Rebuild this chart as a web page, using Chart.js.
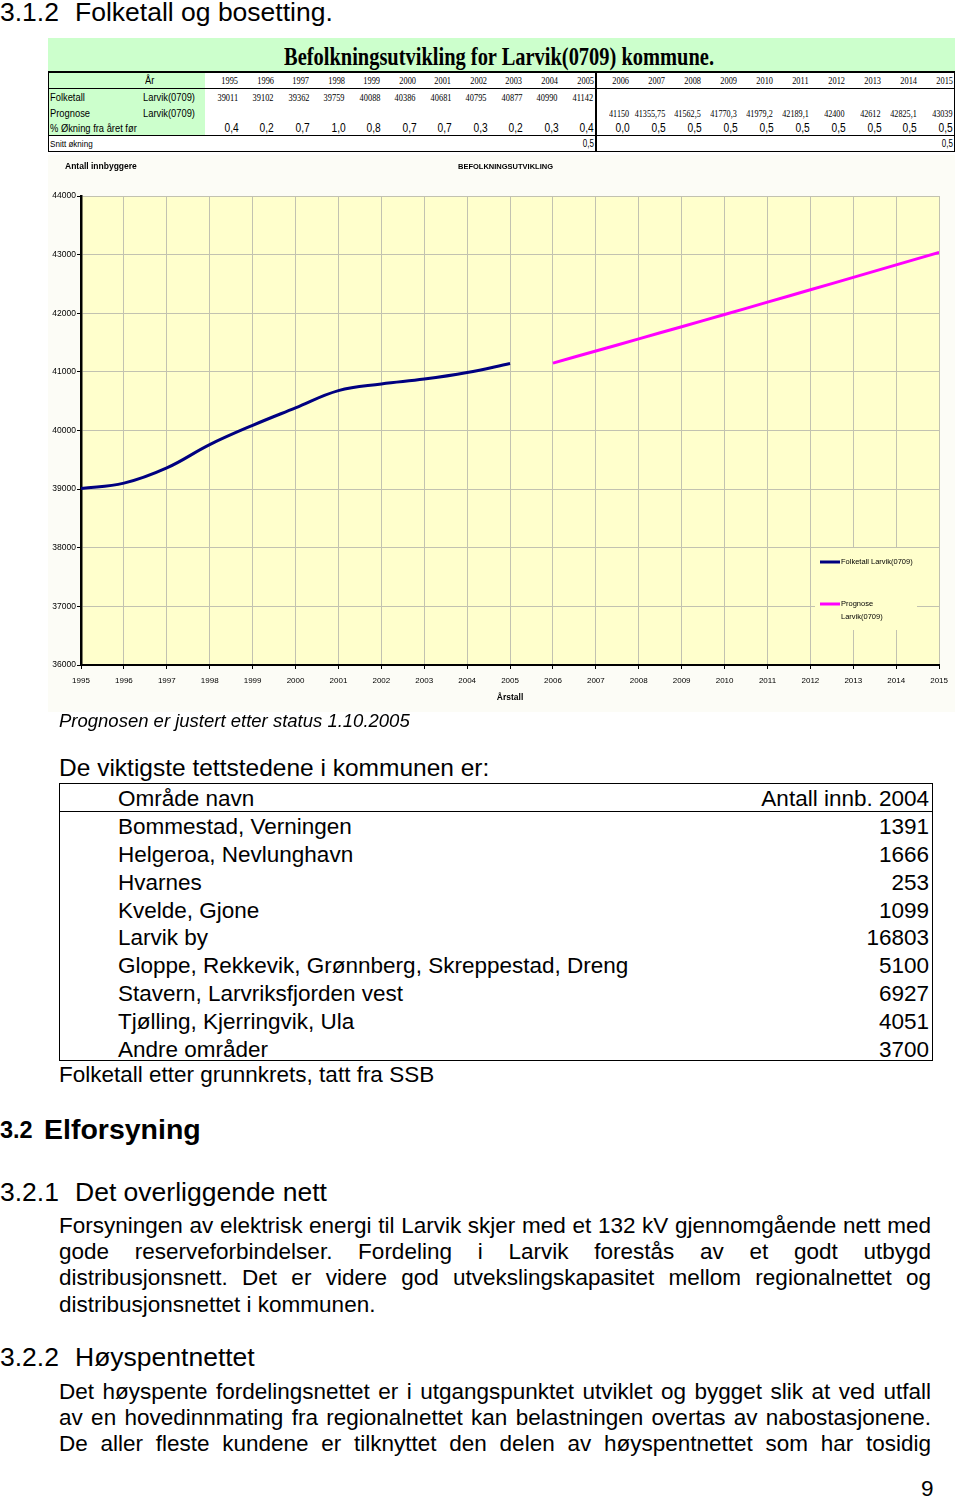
<!DOCTYPE html>
<html lang="no"><head><meta charset="utf-8">
<title>Folketall og bosetting</title>
<script src="https://cdn.jsdelivr.net/npm/chart.js@4.4.1/dist/chart.umd.min.js"></script>
<style>
html,body{margin:0;padding:0;background:#fff}
body{position:relative;width:960px;height:1500px;overflow:hidden;font-family:"Liberation Sans",Arial,sans-serif;color:#000}
.t{position:absolute;white-space:nowrap;line-height:1.15}
.c{position:absolute;white-space:nowrap;line-height:1}
.hl{position:absolute;background:#000}
#chartBox{position:absolute;left:48px;top:155px;width:907px;height:557px;background:#fcfcf6}
#chartBox canvas{display:block}
</style></head><body>
<div style="position:absolute;left:48px;top:38px;width:907px;height:34px;background:#ccffcc"></div>
<div style="position:absolute;left:48px;top:72px;width:157px;height:64px;background:#ccffcc"></div>
<div id="chartBox"><canvas id="c" width="907" height="557"></canvas></div>
<script>
// ---- data ----
const histYears = [1995,1996,1997,1998,1999,2000,2001,2002,2003,2004,2005];
const folketall = [39011,39102,39362,39759,40088,40386,40681,40795,40877,40990,41142];
const progYears = [2006,2007,2008,2009,2010,2011,2012,2013,2014,2015];
const prognose = [41150,41355.75,41562.5,41770.3,41979.2,42189.1,42400,42612,42825.1,43039];
const okning = [0.4,0.2,0.7,1.0,0.8,0.7,0.7,0.3,0.2,0.3,0.4,0.0,0.5,0.5,0.5,0.5,0.5,0.5,0.5,0.5,0.5];
const snittYears = [2005,2015];
const snittOkning = [0.5,0.5];
const yMin = 36000, yMax = 44000, yStep = 1000;
const places = ["Bommestad, Verningen","Helgeroa, Nevlunghavn","Hvarnes","Kvelde, Gjone","Larvik by","Gloppe, Rekkevik, Grønnberg, Skreppestad, Dreng","Stavern, Larvriksfjorden vest","Tjølling, Kjerringvik, Ula","Andre områder"];
const placeCounts = [1391,1666,253,1099,16803,5100,6927,4051,3700];
const seriesNames = ["Folketall Larvik(0709)","Prognose Larvik(0709)"];

// ---- helpers ----
const SANS='"Liberation Sans",Arial,sans-serif', SERIF='"Liberation Serif","Times New Roman",serif';
function el(cls,str,css){const d=document.createElement('div');d.className=cls;d.textContent=str;Object.assign(d.style,css);document.body.appendChild(d);return d;}
function line(x,y,w,h){const d=document.createElement('div');d.className='hl';Object.assign(d.style,{left:x+'px',top:y+'px',width:w+'px',height:h+'px'});document.body.appendChild(d);}
function tb(str,x,base,size,o={}){
  const d=el('t',str,{fontSize:size+'px',top:(base-0.9215*size)+'px'});
  if(o.right!==undefined){d.style.right=(960-o.right)+'px';} else d.style.left=x+'px';
  if(o.bold)d.style.fontWeight='bold'; if(o.italic)d.style.fontStyle='italic';
  return d;
}
function justify(str,x,base,size,w){
  const d=tb(str,x,base,size);
  const nat=d.getBoundingClientRect().width;
  const n=(str.match(/ /g)||[]).length;
  if(n)d.style.wordSpacing=((w-nat)/n)+'px';
  return d;
}
function cc(str,x,cy,size,o={}){
  const d=el('c',str,{fontSize:size+'px',top:(cy-size/2)+'px',fontFamily:o.family||SANS});
  if(o.bold)d.style.fontWeight='bold';
  const sx=o.sx||1;
  if(o.align==='right'){d.style.right=(960-x)+'px';d.style.transformOrigin='right center';}
  else{d.style.left=x+'px';d.style.transformOrigin='left center';}
  if(sx!==1)d.style.transform='scaleX('+sx+')';
  return d;
}
function fitCenter(str,cx,cy,size,target,o={}){
  const d=cc(str,0,cy,size,o);
  const nat=d.getBoundingClientRect().width;
  d.style.left=(cx-target/2)+'px';
  d.style.transform='scaleX('+(target/nat)+')';
  return d;
}
const fmt=v=>String(v).replace('.',',');
const fmt1=v=>v.toFixed(1).replace('.',',');

// ---- page heading ----
tb('3.1.2',0,21,26.5); tb('Folketall og bosetting.',75,21,26.5);

// ---- statistics table (image header) ----
fitCenter('Befolkningsutvikling for Larvik(0709) kommune.',499,56,25,430,{family:SERIF,bold:true});
line(48,71,907,2); line(48,88,907,1); line(48,135,907,1); line(48,151,907,1);
line(595,71,2,81); line(48,71,1,81); line(954,71,1,81);
const allYears=histYears.concat(progYears);
function colRight(i){return i<histYears.length?205+(i+1)*(391/histYears.length):596+(i-histYears.length+1)*(359/progYears.length);}
cc('År',145,80,11,{sx:0.85});
cc('Folketall',50,97,11,{sx:0.85}); cc('Larvik(0709)',143,97,11,{sx:0.85});
cc('Prognose',50,113,11,{sx:0.85}); cc('Larvik(0709)',143,113,11,{sx:0.85});
cc('% Økning fra året før',50,128,11,{sx:0.85});
cc('Snitt økning',50,144,9.5,{sx:0.85});
allYears.forEach((y,i)=>{cc(String(y),colRight(i)-2.5,80,11,{family:SERIF,sx:0.76,align:'right'});});
folketall.forEach((v,i)=>{cc(fmt(v),colRight(i)-2.5,97,11,{family:SERIF,sx:0.76,align:'right'});});
prognose.forEach((v,i)=>{cc(fmt(v),colRight(histYears.length+i)-2.5,113,11,{family:SERIF,sx:0.74,align:'right'});});
okning.forEach((v,i)=>{cc(fmt1(v),colRight(i)-2,128,12,{sx:0.85,align:'right'});});
snittYears.forEach((y,k)=>{cc(fmt1(snittOkning[k]),colRight(allYears.indexOf(y))-2,144,10,{sx:0.8,align:'right'});});

// ---- chart ----
Chart.defaults.font.family='"Liberation Sans",Arial,sans-serif';
Chart.defaults.color='#000';
const PLOT_BG='#ffffcc';
const bgPlugin={id:'bgPlot',beforeDraw(ch){const {ctx,chartArea:a}=ch;ctx.save();ctx.fillStyle=PLOT_BG;ctx.fillRect(a.left,a.top,a.right-a.left,a.bottom-a.top);ctx.restore();}};
const decoPlugin={id:'deco',
  afterDatasetsDraw(ch){
    const ctx=ch.ctx; ctx.save();
    ctx.fillStyle=PLOT_BG; ctx.fillRect(767,393,102,82);
    const ds=ch.data.datasets;
    const rows=[[407,[ds[0].label]],[449,['Prognose','Larvik(0709)']]];
    ctx.font='7.5px "Liberation Sans",Arial,sans-serif'; ctx.textBaseline='middle'; ctx.textAlign='left';
    rows.forEach((r,i)=>{
      ctx.strokeStyle=ds[i].borderColor; ctx.lineWidth=3; ctx.beginPath(); ctx.moveTo(772,r[0]); ctx.lineTo(792,r[0]); ctx.stroke();
      ctx.fillStyle='#000'; r[1].forEach((t,k)=>ctx.fillText(t,793,r[0]+k*13));
    });
    ctx.restore();
  },
  afterDraw(ch){
    const ctx=ch.ctx; ctx.save(); ctx.fillStyle='#000'; ctx.textBaseline='middle'; ctx.textAlign='left';
    ctx.font='bold 8.5px "Liberation Sans",Arial,sans-serif'; ctx.fillText('Antall innbyggere',17,12);
    ctx.font='bold 7.5px "Liberation Sans",Arial,sans-serif'; ctx.fillText('BEFOLKNINGSUTVIKLING',410,12);
    ctx.restore();
  }};
new Chart(document.getElementById('c'),{
  type:'line',
  data:{datasets:[
    {label:seriesNames[0],data:histYears.map((y,i)=>({x:y,y:folketall[i]})),borderColor:'#000080',backgroundColor:'#000080',borderWidth:3,pointRadius:0,tension:0.4,fill:false},
    {label:seriesNames[1],data:progYears.map((y,i)=>({x:y,y:prognose[i]})),borderColor:'#ff00ff',backgroundColor:'#ff00ff',borderWidth:3,pointRadius:0,tension:0.4,fill:false}
  ]},
  options:{
    responsive:false,animation:false,devicePixelRatio:1,
    layout:{padding:{left:0,right:14,top:41,bottom:0}},
    plugins:{legend:{display:false},tooltip:{enabled:false},title:{display:false}},
    scales:{
      x:{type:'linear',min:histYears[0],max:progYears[progYears.length-1],
        ticks:{stepSize:1,autoSkip:false,maxRotation:0,padding:7,color:'#000',font:{size:8},callback:v=>String(v)},
        grid:{color:'#c2c2b0',tickColor:'#000',tickLength:4,lineWidth:1},
        border:{color:'#000',width:2},
        title:{display:true,text:'Årstall',color:'#000',font:{size:8.5,weight:'bold'},padding:{top:0,bottom:9}},
        afterFit(s){s.height=47;}},
      y:{min:yMin,max:yMax,
        ticks:{stepSize:yStep,padding:1,color:'#000',font:{size:8.5},callback:v=>String(v)},
        grid:{color:'#c2c2b0',tickColor:'#000',tickLength:4,lineWidth:1},
        border:{color:'#000',width:2.5},
        afterFit(s){s.width=33;}}
    }
  },
  plugins:[bgPlugin,decoPlugin]
});

// ---- body text ----
tb('Prognosen er justert etter status 1.10.2005',59,727,18.5,{italic:true});
tb('De viktigste tettstedene i kommunen er:',59,776.5,24.5);
el('t','',{left:'59px',top:'782.5px',width:'874px',height:'278.5px',border:'1px solid #000',boxSizing:'border-box'});
line(59,810.5,874,1);
tb('Område navn',118,807,22.5); tb('Antall innb. 2004',0,807,22.5,{right:929});
places.forEach((p,i)=>{const b=835+27.8*i; tb(p,118,b,22.5); tb(String(placeCounts[i]),0,b,22.5,{right:929});});
tb('Folketall etter grunnkrets, tatt fra SSB',59,1082.5,22.5);
tb('3.2',0,1139,23.5,{bold:true}); tb('Elforsyning',44,1139,28.5,{bold:true});
tb('3.2.1',0,1201,26.5); tb('Det overliggende nett',75,1201,26.5);
const p1=['Forsyningen av elektrisk energi til Larvik skjer med et 132 kV gjennomgående nett med',
 'gode reserveforbindelser. Fordeling i Larvik forestås av et godt utbygd',
 'distribusjonsnett. Det er videre god utvekslingskapasitet mellom regionalnettet og'];
p1.forEach((s,i)=>justify(s,59,1233.5+26.3*i,22.5,872));
tb('distribusjonsnettet i kommunen.',59,1233.5+26.3*3,22.5);
tb('3.2.2',0,1366,26.5); tb('Høyspentnettet',75,1366,26.5);
const p2=['Det høyspente fordelingsnettet er i utgangspunktet utviklet og bygget slik at ved utfall',
 'av en hovedinnmating fra regionalnettet kan belastningen overtas av nabostasjonene.',
 'De aller fleste kundene er tilknyttet den delen av høyspentnettet som har tosidig'];
p2.forEach((s,i)=>justify(s,59,1399.5+26.2*i,22.5,872));
tb('9',921,1497,22.5);
</script>
</body></html>
